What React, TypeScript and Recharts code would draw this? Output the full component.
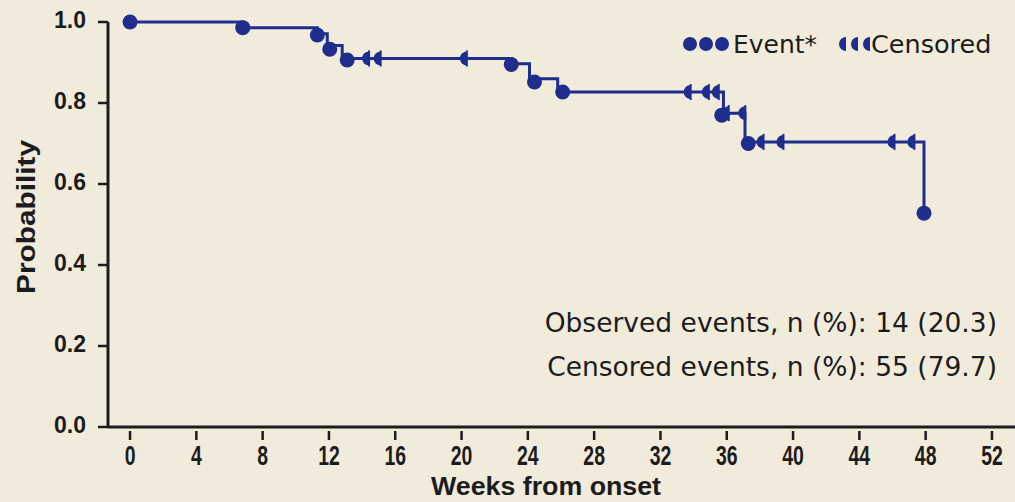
import React from "react"
import { ComposedChart, Line, Scatter, XAxis, YAxis, Customized } from "recharts"

// Kaplan-Meier step curve (weeks from onset -> probability)
const weeks = [0, 6.8, 11.3, 11.9, 12.8, 23.0, 24.1, 25.8, 35.8, 37.1, 47.9]
const survival = [1, 0.986, 0.971, 0.942, 0.91, 0.897, 0.86, 0.827, 0.775, 0.704, 0.528]

// event markers
const eventWeeks = [0, 6.8, 11.3, 12.05, 13.1, 23.0, 24.4, 26.1, 35.7, 37.3, 47.9]
const eventProb = [1, 0.986, 0.968, 0.933, 0.906, 0.895, 0.852, 0.827, 0.77, 0.7, 0.528]

// censored markers
const censorWeeks = [14.3, 15.0, 20.2, 33.7, 34.8, 35.4, 36.0, 37.0, 38.1, 39.3, 46.0, 47.2]
const censorProb = [0.91, 0.91, 0.91, 0.827, 0.827, 0.827, 0.775, 0.775, 0.704, 0.704, 0.704, 0.704]

const xTicks = [0, 4, 8, 12, 16, 20, 24, 28, 32, 36, 40, 44, 48, 52]
const yTicks = [0, 0.2, 0.4, 0.6, 0.8, 1]

const curve = weeks.map((w, i) => ({ week: w, prob: survival[i] }))
const events = eventWeeks.map((w, i) => ({ week: w, prob: eventProb[i] }))
const censored = censorWeeks.map((w, i) => ({ week: w, prob: censorProb[i] }))

const BLUE = "#1f2d8c"
const INK = "#1c1c1c"
const BG = "#f1ebdc"
const ARIAL = "'Liberation Sans', Arial, sans-serif"
const VERDANA = "'DejaVu Sans', Verdana, sans-serif"

// x tick labels are condensed in the original, so squeeze them horizontally
const XTick = ({ x, y, payload }: any) => (
  <g>
    <line x1={x} x2={x} y1={y + 4} y2={y + 13} stroke={INK} strokeWidth={2.5} />
    <text
      transform={`translate(${x},${y + 38}) scale(0.72,1)`}
      textAnchor="middle"
      fontFamily={ARIAL}
      fontWeight="bold"
      fontSize={27}
      fill={INK}
    >
      {payload.value}
    </text>
  </g>
)

const YTick = ({ x, y, payload }: any) => (
  <g>
    <line x1={x - 10} x2={x} y1={y} y2={y} stroke={INK} strokeWidth={2.5} />
    <text x={x - 22} y={y + 6} textAnchor="end" fontFamily={ARIAL} fontWeight="bold" fontSize={23} fill={INK}>
      {payload.value.toFixed(1)}
    </text>
  </g>
)

const EventDot = ({ cx, cy }: any) => <circle cx={cx} cy={cy} r={7.5} fill={BLUE} />

const CensorMark = ({ cx, cy }: any) => (
  <g>
    <path d={`M${cx + 2},${cy - 7} A7,7 0 0 0 ${cx + 2},${cy + 7} Z`} fill={BLUE} />
    <line x1={cx + 2} x2={cx + 2} y1={cy - 8} y2={cy + 8} stroke={BLUE} strokeWidth={2} />
  </g>
)

const Extras = () => (
  <g>
    {[690, 706, 722].map((x) => (
      <circle key={x} cx={x} cy={44} r={7} fill={BLUE} />
    ))}
    <text x={733} y={53} fontFamily={VERDANA} fontSize={25} fill={INK}>Event*</text>
    {[846, 858, 870].map((x) => (
      <path key={x} d={`M${x},${44 - 7} A7,7 0 0 0 ${x},${44 + 7} Z`} fill={BLUE} />
    ))}
    <text x={871} y={53} fontFamily={VERDANA} fontSize={25.5} fill={INK}>Censored</text>
    <text x={997} y={332} textAnchor="end" fontFamily={VERDANA} fontSize={26.5} fill={INK}>
      Observed events, n (%): 14 (20.3)
    </text>
    <text x={997} y={376} textAnchor="end" fontFamily={VERDANA} fontSize={26.5} fill={INK}>
      Censored events, n (%): 55 (79.7)
    </text>
    <text
      x={0}
      y={0}
      transform="translate(35,217) rotate(-90)"
      textAnchor="middle"
      fontFamily={ARIAL}
      fontWeight="bold"
      fontSize={25}
      textLength={154}
      lengthAdjust="spacingAndGlyphs"
      fill={INK}
    >
      Probability
    </text>
    <text
      x={546}
      y={495}
      textAnchor="middle"
      fontFamily={ARIAL}
      fontWeight="bold"
      fontSize={26}
      textLength={230}
      lengthAdjust="spacingAndGlyphs"
      fill={INK}
    >
      Weeks from onset
    </text>
  </g>
)

export default function App() {
  return (
    <div style={{ position: "absolute", left: 0, top: 0, width: 1015, height: 502, background: BG }}>
      <ComposedChart width={1015} height={502} data={curve} margin={{ top: 22, right: 0, bottom: 0, left: 0 }}>
        <XAxis
          type="number"
          dataKey="week"
          domain={[-1.33, 53.39]}
          ticks={xTicks}
          allowDataOverflow
          height={75}
          tickSize={0}
          tickMargin={0}
          tickLine={false}
          axisLine={{ stroke: INK, strokeWidth: 3 }}
          tick={<XTick />}
          interval={0}
        />
        <YAxis
          type="number"
          dataKey="prob"
          domain={[0, 1]}
          ticks={yTicks}
          width={108}
          tickSize={0}
          tickMargin={0}
          tickLine={false}
          axisLine={{ stroke: INK, strokeWidth: 3 }}
          tick={<YTick />}
          interval={0}
        />
        <Line
          type="stepAfter"
          dataKey="prob"
          stroke={BLUE}
          strokeWidth={3}
          dot={false}
          activeDot={false}
          isAnimationActive={false}
        />
        <Scatter data={censored} dataKey="prob" shape={<CensorMark />} isAnimationActive={false} />
        <Scatter data={events} dataKey="prob" shape={<EventDot />} isAnimationActive={false} />
        <Customized component={<Extras />} />
      </ComposedChart>
    </div>
  )
}
